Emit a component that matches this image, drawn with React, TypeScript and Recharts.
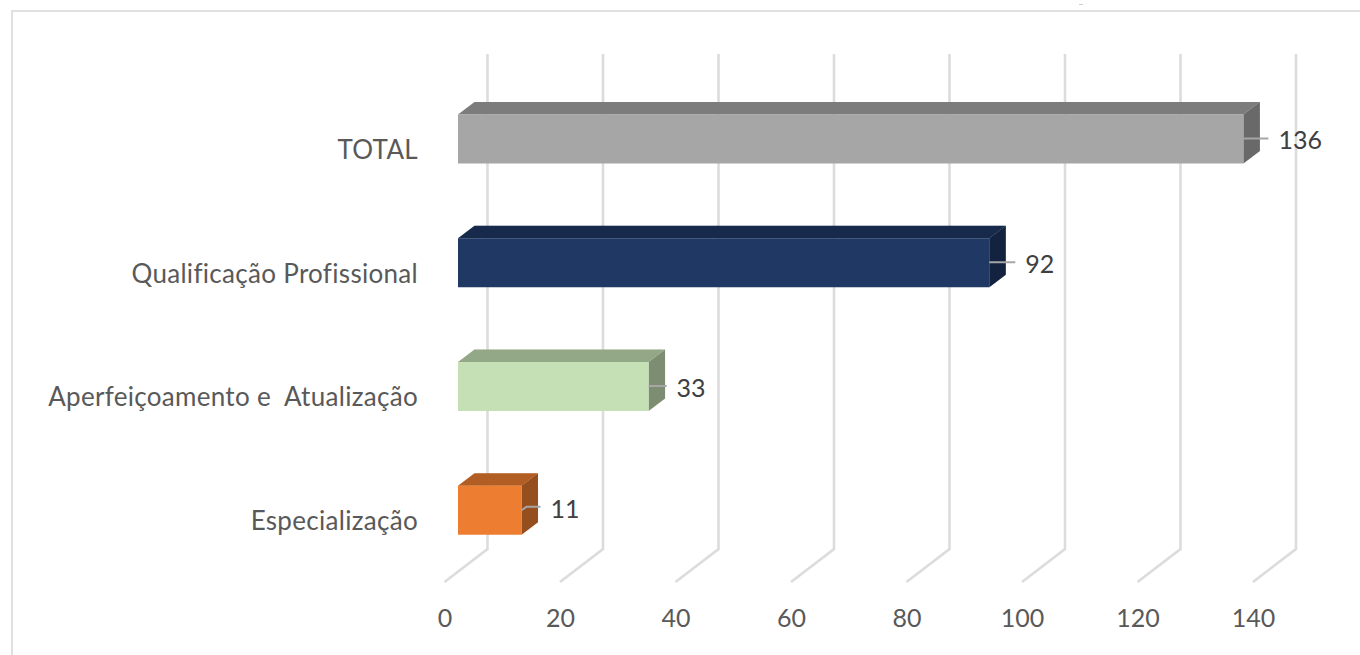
import React from "react";
import { BarChart, Bar, XAxis, YAxis, CartesianGrid, Cell, LabelList } from "recharts";

const categories = ["TOTAL", "Qualificação Profissional", "Aperfeiçoamento e  Atualização", "Especialização"];
const values = [136, 92, 33, 11];
const colors = ["#a6a6a6", "#1f3864", "#c5e0b4", "#ed7d31"];
const xTicks = [0, 20, 40, 60, 80, 100, 120, 140];
const leaderLengths = [25, 26, 18, 19];

const rows = categories.map((name, i) => ({ name, value: values[i] }));

const FONT = "Lato, Carlito, sans-serif";
const DX = 16.5;
const DY = 12.5;

function Bar3D(props: any) {
  const { x, y, width: w, height: h, fill } = props;
  const top = `M${x},${y}L${x + DX},${y - DY}L${x + w + DX},${y - DY}L${x + w},${y}Z`;
  const side = `M${x + w},${y}L${x + w + DX},${y - DY}L${x + w + DX},${y + h - DY}L${x + w},${y + h}Z`;
  return (
    <g>
      <path d={top} fill={fill} />
      <path d={top} fill="#000" fillOpacity={0.25} />
      <path d={side} fill={fill} />
      <path d={side} fill="#000" fillOpacity={0.37} />
      <rect x={x} y={y} width={w} height={h} fill={fill} />
    </g>
  );
}

function DataLabel(props: any) {
  const { x, y, width: w, height: h, value, index } = props;
  const len = leaderLengths[index];
  const end = x + w;
  const mid = y + h / 2;
  const elbow = w < 100;
  const lineY = elbow ? mid - 3.5 : mid - 0.5;
  const d = elbow
    ? `M${end},${mid}L${end + 5},${lineY}L${end + len},${lineY}`
    : `M${end},${lineY}L${end + len},${lineY}`;
  return (
    <g>
      <path d={d} fill="none" stroke="#a6a6a6" strokeWidth={2} />
      <text x={end + len + 10} y={lineY + 4.5} fill="#404040" fontFamily={FONT} fontSize={25} dominantBaseline="middle">
        {value}
      </text>
    </g>
  );
}

function GridLine(props: any) {
  const { x1, key } = props;
  const wall = x1 + 29.5;
  return (
    <path
      key={key}
      d={`M${wall},54L${wall},549L${wall - 43},582`}
      fill="none"
      stroke="#dcdcdc"
      strokeWidth={2.6}
    />
  );
}

function XTick(props: any) {
  const { x, payload } = props;
  return (
    <text x={x - 13} y={621} fill="#595959" fontFamily={FONT} fontSize={25} textAnchor="middle" dominantBaseline="middle">
      {payload.value}
    </text>
  );
}

function YTick(props: any) {
  const { y, payload } = props;
  return (
    <text x={418} y={y + 13} fill="#595959" fontFamily={FONT} fontSize={26} letterSpacing={0.3} textAnchor="end" dominantBaseline="middle" style={{ whiteSpace: "pre" }}>
      {payload.value}
    </text>
  );
}

export default function App() {
  return (
    <div style={{ position: "absolute", left: 0, top: 0, width: 1360, height: 655, background: "#fff", overflow: "hidden" }}>
      <div style={{ position: "absolute", left: 11, top: 10, width: 1349, height: 2, background: "#e0e0e0" }} />
      <div style={{ position: "absolute", left: 11, top: 10, width: 2, height: 645, background: "#e0e0e0" }} />
      <div style={{ position: "absolute", left: 1079, top: 4, width: 4, height: 1, background: "#cfcfcf" }} />
      <div style={{ position: "absolute", left: 0, top: 0 }}>
        <BarChart
          width={1360}
          height={655}
          data={rows}
          layout="vertical"
          margin={{ left: 58, right: 93.5, top: 77.5, bottom: 52.5 }}
          style={{ background: "transparent" }}
        >
          <CartesianGrid horizontal={false} vertical={GridLine as any} syncWithTicks />
          <XAxis type="number" domain={[0, 140]} ticks={xTicks} axisLine={false} tickLine={false} height={30} tick={XTick as any} interval={0} />
          <YAxis type="category" dataKey="name" width={400} axisLine={false} tickLine={false} tick={YTick as any} interval={0} />
          <Bar dataKey="value" barSize={49} shape={Bar3D as any} isAnimationActive={false}>
            {rows.map((r, i) => (
              <Cell key={r.name} fill={colors[i]} />
            ))}
            <LabelList dataKey="value" content={DataLabel as any} />
          </Bar>
        </BarChart>
      </div>
    </div>
  );
}
